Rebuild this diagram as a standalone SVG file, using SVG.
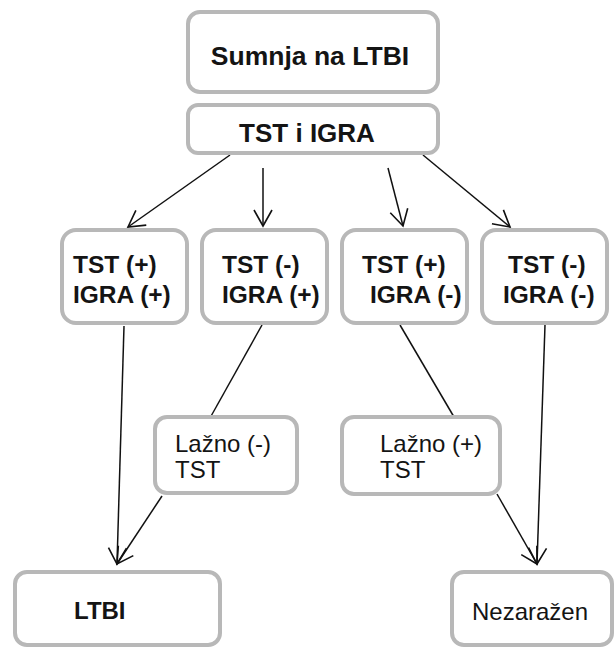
<svg xmlns="http://www.w3.org/2000/svg" width="616" height="648" viewBox="0 0 616 648">
<style>
.box{fill:#fff;stroke:#b8b8b8;stroke-width:4}
.t{font-family:"Liberation Sans",Arial,sans-serif;fill:#141414}
.b{font-weight:bold}
.c{fill:none;stroke:#111;stroke-width:1.5}
</style>
<defs>
<marker id="arr" markerUnits="userSpaceOnUse" markerWidth="20" markerHeight="20" refX="17" refY="10" orient="auto" viewBox="0 0 20 20">
<path d="M1,1 L17,10 L1,19" fill="none" stroke="#111" stroke-width="1.6"/>
</marker>
</defs>
<rect width="616" height="648" fill="#fff"/>
<g id="connectors">
<line class="c" x1="230" y1="155" x2="128" y2="227" marker-end="url(#arr)"/>
<line class="c" x1="263" y1="168" x2="263" y2="226" marker-end="url(#arr)"/>
<line class="c" x1="388" y1="168" x2="403" y2="226" marker-end="url(#arr)"/>
<line class="c" x1="423" y1="155" x2="510" y2="227" marker-end="url(#arr)"/>
<line class="c" x1="124" y1="326" x2="117" y2="564" marker-end="url(#arr)"/>
<line class="c" x1="262" y1="325" x2="210" y2="418"/>
<line class="c" x1="162" y1="496" x2="117" y2="564" marker-end="url(#arr)"/>
<line class="c" x1="400" y1="325" x2="454" y2="417"/>
<line class="c" x1="497" y1="494" x2="537" y2="564" marker-end="url(#arr)"/>
<line class="c" x1="545" y1="325" x2="537" y2="564" marker-end="url(#arr)"/>
</g>
<g id="sumnja">
<rect class="box" x="188" y="12" width="250" height="80" rx="12"/>
<text class="t b" x="310" y="65" font-size="26.5" text-anchor="middle">Sumnja na LTBI</text>
</g>
<g id="tst-igra">
<rect class="box" x="188" y="105" width="250" height="48" rx="10"/>
<text class="t b" x="307" y="142" font-size="26" text-anchor="middle">TST i IGRA</text>
</g>
<g id="pp">
<rect class="box" x="62" y="230" width="125" height="93" rx="14"/>
<text class="t b" font-size="24.5"><tspan x="73" y="273">TST (+)</tspan><tspan x="73" y="303">IGRA (+)</tspan></text>
</g>
<g id="np">
<rect class="box" x="202" y="230" width="125" height="93" rx="14"/>
<text class="t b" font-size="24.5"><tspan x="222" y="273">TST (-)</tspan><tspan x="222" y="303">IGRA (+)</tspan></text>
</g>
<g id="pn">
<rect class="box" x="342" y="230" width="125" height="93" rx="14"/>
<text class="t b" font-size="24.5"><tspan x="362" y="273">TST (+)</tspan><tspan x="370" y="303">IGRA (-)</tspan></text>
</g>
<g id="nn">
<rect class="box" x="482" y="230" width="125" height="93" rx="14"/>
<text class="t b" font-size="24.5"><tspan x="508" y="273">TST (-)</tspan><tspan x="503" y="303">IGRA (-)</tspan></text>
</g>
<g id="lazno-neg">
<rect class="box" x="155" y="417" width="142" height="76" rx="12"/>
<text class="t" font-size="24"><tspan x="175" y="452">Lažno (-)</tspan><tspan x="175" y="478">TST</tspan></text>
</g>
<g id="lazno-pos">
<rect class="box" x="342" y="417" width="158" height="77" rx="12"/>
<text class="t" font-size="24"><tspan x="380" y="452">Lažno (+)</tspan><tspan x="380" y="478">TST</tspan></text>
</g>
<g id="ltbi">
<rect class="box" x="15" y="572" width="205" height="73" rx="12"/>
<text class="t b" x="74" y="619" font-size="24">LTBI</text>
</g>
<g id="nezarazen">
<rect class="box" x="452" y="572" width="160" height="73" rx="12"/>
<text class="t" x="472" y="620" font-size="24">Nezaražen</text>
</g>
</svg>
